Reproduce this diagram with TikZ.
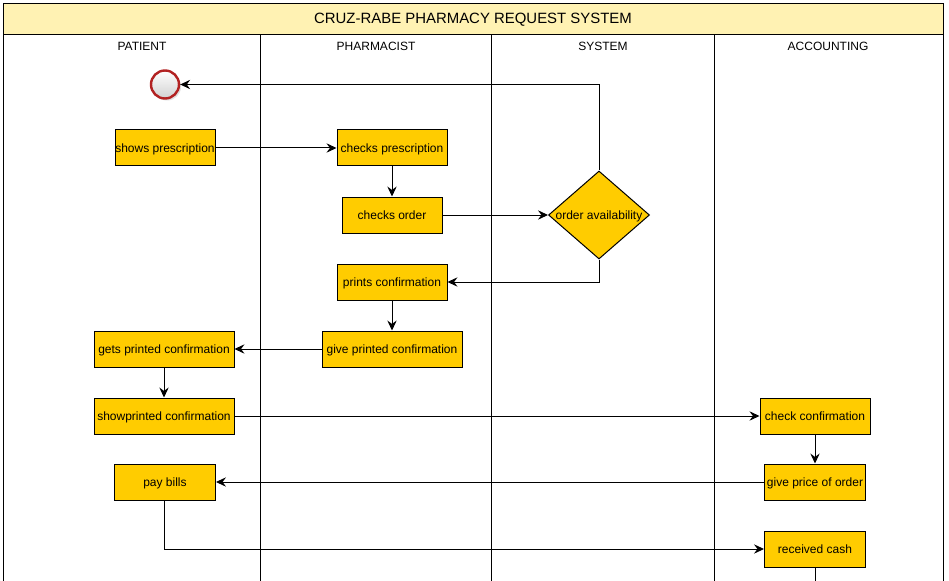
\documentclass[tikz,border=0pt]{standalone}
\usepackage{fontspec}
\setmainfont{Liberation Sans}
\usetikzlibrary{arrows.meta,shapes.geometric,shadows}
\definecolor{boxfill}{HTML}{FFCC00}
\definecolor{titlefill}{HTML}{FFF2B3}
\definecolor{startred}{HTML}{B22222}
\tikzset{
  box/.style={draw=black,fill=boxfill,line width=0.75pt,inner sep=0pt,minimum height=27pt,
    text height=7.3pt,text depth=0.8pt,font=\fontsize{9}{11}\selectfont},
  conn/.style={line width=0.75pt,-{Stealth[length=7.5pt,width=7pt,inset=2.6pt]}},
  plain/.style={line width=0.75pt},
  lane/.style={line width=0.75pt},
  hdr/.style={font=\fontsize{9}{11}\selectfont,inner sep=0pt},
}
\begin{document}
\begin{tikzpicture}[x=0.75pt,y=-0.75pt]
\clip (0,0) rectangle (949,581);
\fill[white] (0,0) rectangle (949,581);
% frame and title
\draw[lane,fill=titlefill] (3,4) rectangle (943,35);
\draw[lane] (3,35) -- (3,600) (943,35) -- (943,600);
\node[font=\fontsize{11.2}{13}\selectfont,inner sep=0pt] (title) at (473,20) {CRUZ-RABE PHARMACY REQUEST SYSTEM};
\draw[lane] (260,35) -- (260,600) (491,35) -- (491,600) (714,35) -- (714,600);
\node[hdr] (h1) at (142,46.5) {PATIENT};
\node[hdr] (h2) at (376,46.5) {PHARMACIST};
\node[hdr] (h3) at (603,46.5) {SYSTEM};
\node[hdr] (h4) at (828,46.5) {ACCOUNTING};
% start event
\node[circle,draw=startred,line width=1.8pt,minimum size=21pt,inner sep=0pt,
      top color=white,bottom color=black!18,drop shadow={opacity=0.25,shadow xshift=1.5pt,shadow yshift=-1.5pt}] (start) at (165,84.5) {};
% nodes
\node[box,minimum width=75pt] (sp) at (165,148) {shows prescription};
\node[box,minimum width=82.5pt] (cp) at (392,148) {checks prescription};
\node[box,minimum width=75pt] (co) at (392,215) {checks order};
\node[diamond,draw=black,fill=boxfill,line width=0.75pt,inner sep=0pt,minimum width=75.75pt,minimum height=66pt,
      label={[font=\fontsize{9}{11}\selectfont,text height=7.3pt,text depth=0.8pt,inner sep=0pt]center:order availability}] (dia) at (599,215) {};
\node[box,minimum width=82.5pt] (pc) at (392,282) {prints confirmation};
\node[box,minimum width=105pt] (gpc) at (392,349) {give printed confirmation};
\node[box,minimum width=105pt] (gets) at (164,349) {gets printed confirmation};
\node[box,minimum width=105pt] (show) at (164,416) {showprinted confirmation};
\node[box,minimum width=82.5pt] (cc) at (815,416) {check confirmation};
\node[box,minimum width=75.75pt] (gpo) at (815,482) {give price of order};
\node[box,minimum width=75.75pt] (pay) at (165,482) {pay bills};
\node[box,minimum width=75.75pt] (rc) at (815,549) {received cash};
\coordinate (rcend) at (815,600);
% connectors
\draw[conn] (dia.north) |- (start.east);
\draw[conn] (sp.east) -- (cp.west);
\draw[conn] (cp.south) -- (co.north);
\draw[conn] (co.east) -- (dia.west);
\draw[conn] (dia.south) |- (pc.east);
\draw[conn] (pc.south) -- (gpc.north);
\draw[conn] (gpc.west) -- (gets.east);
\draw[conn] (gets.south) -- (show.north);
\draw[conn] (show.east) -- (cc.west);
\draw[conn] (cc.south) -- (gpo.north);
\draw[conn] (gpo.west) -- (pay.east);
\draw[conn] ([xshift=-0.75pt]pay.south) |- (rc.west);
\draw[plain] (rc.south) -- (rcend);
\end{tikzpicture}
\end{document}
